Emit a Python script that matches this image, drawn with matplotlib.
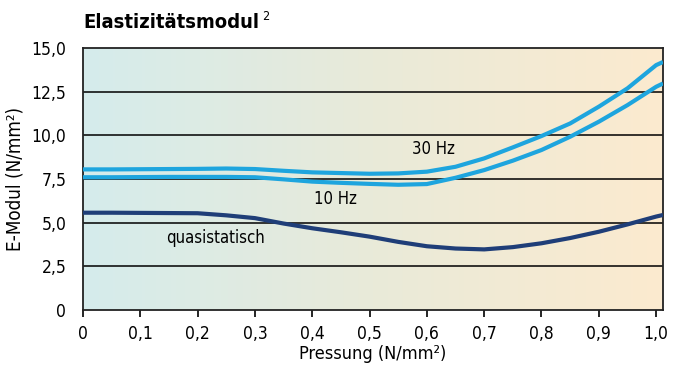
import numpy as np
import matplotlib.pyplot as plt
from matplotlib.colors import LinearSegmentedColormap

plt.rcParams['font.family'] = ['DejaVu Sans']
plt.rcParams['font.stretch'] = 'condensed'

pressure = [0, 0.05, 0.1, 0.15, 0.2, 0.25, 0.3, 0.35, 0.4, 0.45, 0.5,
            0.55, 0.6, 0.65, 0.7, 0.75, 0.8, 0.85, 0.9, 0.95, 1.0, 1.012]
hz30 = [8.05, 8.05, 8.06, 8.07, 8.08, 8.1, 8.07, 7.97, 7.88, 7.84, 7.8,
        7.82, 7.92, 8.2, 8.68, 9.31, 9.96, 10.68, 11.64, 12.69, 14.02, 14.2]
hz10 = [7.6, 7.6, 7.61, 7.62, 7.62, 7.62, 7.6, 7.48, 7.35, 7.28, 7.22,
        7.17, 7.21, 7.57, 8.01, 8.55, 9.16, 9.92, 10.78, 11.73, 12.78, 12.97]
quasi = [5.57, 5.57, 5.56, 5.55, 5.54, 5.42, 5.26, 4.95, 4.68, 4.45, 4.2,
         3.9, 3.65, 3.52, 3.47, 3.6, 3.82, 4.12, 4.48, 4.9, 5.35, 5.44]

yticks = [0, 2.5, 5.0, 7.5, 10.0, 12.5, 15.0]
ylabels = ['0', '2,5', '5,0', '7,5', '10,0', '12,5', '15,0']
xticks = [0, 0.1, 0.2, 0.3, 0.4, 0.5, 0.6, 0.7, 0.8, 0.9, 1.0]
xlabels = ['0', '0,1', '0,2', '0,3', '0,4', '0,5', '0,6', '0,7', '0,8', '0,9', '1,0']

fig = plt.figure(figsize=(6.77, 3.69), dpi=100)
ax = fig.add_axes([83 / 677, 59 / 369, 580 / 677, 262 / 369])
xmax = 1.012
ax.set_xlim(0, xmax)
ax.set_ylim(0, 15)

# horizontal background gradient: teal -> beige -> light orange
cmap = LinearSegmentedColormap.from_list('bg', ['#d5ecec', '#e9ead9', '#fcebcf'])
ax.imshow(np.linspace(0, 1, 256)[None, :], cmap=cmap, aspect='auto',
          extent=[0, xmax, 0, 15], zorder=0)

for y in yticks[1:-1]:
    ax.axhline(y, color='black', lw=1.1, zorder=1)

ax.plot(pressure, quasi, color='#1f3e78', lw=3.0, solid_capstyle='butt', zorder=3)
for series in (hz10, hz30):
    ax.plot(pressure, series, color='#1ea5de', lw=3.0, solid_capstyle='butt', zorder=4)

ax.text(0.612, 9.2, '30 Hz', fontsize=12, ha='center', va='center')
ax.text(0.44, 6.35, '10 Hz', fontsize=12, ha='center', va='center')
ax.text(0.232, 4.1, 'quasistatisch', fontsize=12, ha='center', va='center')

ax.set_yticks(yticks)
ax.set_yticklabels(ylabels, fontsize=12.5)
ax.set_xticks(xticks)
ax.set_xticklabels(xlabels, fontsize=12.5)
ax.tick_params(axis='y', length=0, pad=12)
ax.tick_params(axis='x', length=5, width=1.2, direction='out', pad=6)
for s in ax.spines.values():
    s.set_linewidth(1.3)
    s.set_color('#222222')

ax.set_xlabel('Pressung (N/mm²)', fontsize=13, labelpad=1)
ax.set_ylabel('E-Modul (N/mm²)', fontsize=13.5, labelpad=5)

title = fig.text(83 / 677, 1 - 22 / 369, 'Elastizitätsmodul', fontsize=14.5,
                 fontweight='bold', ha='left', va='center')
renderer = fig.canvas.get_renderer()
bb = title.get_window_extent(renderer)
fig.text((bb.x1 + 3) / fig.bbox.width, 1 - 17 / 369, '2', fontsize=9,
         ha='left', va='center')

fig.savefig('out.png', dpi=100)
